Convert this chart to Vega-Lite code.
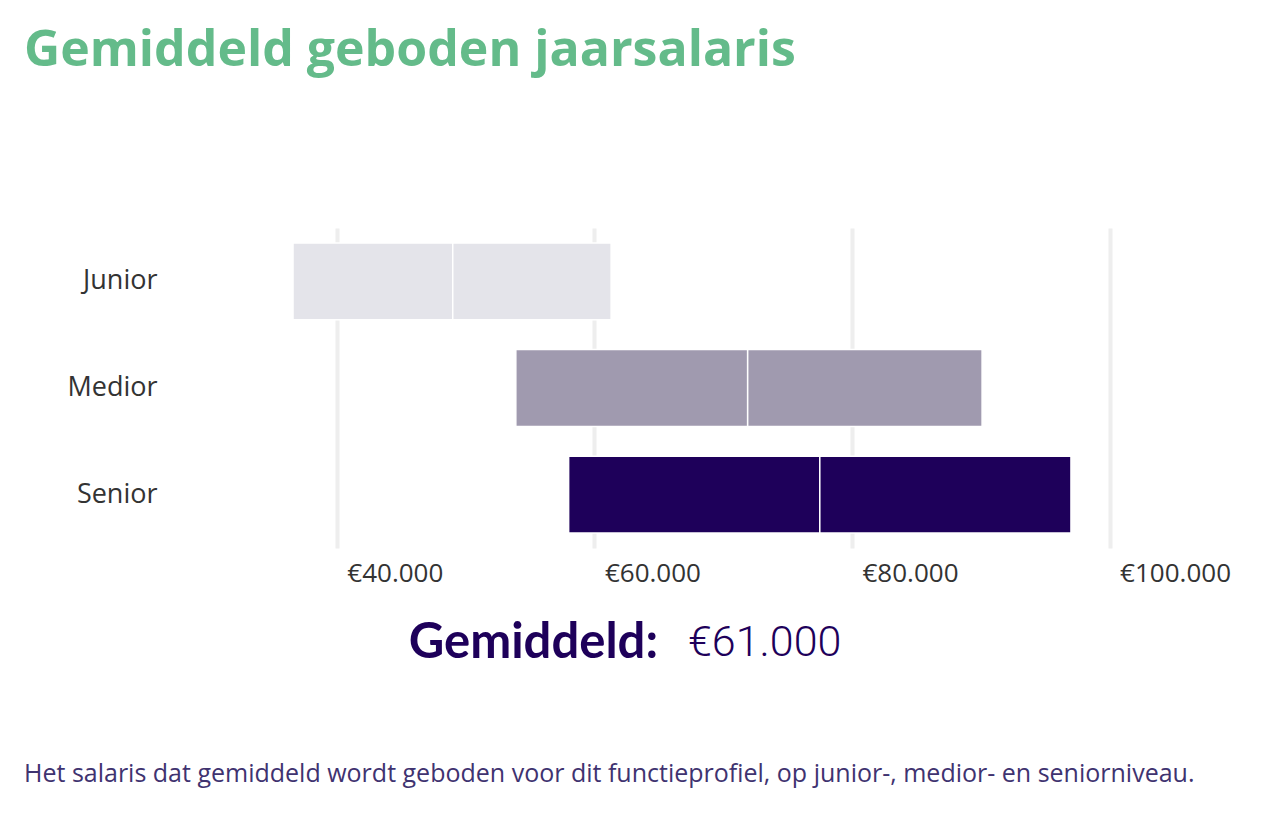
{
  "$schema": "https://vega.github.io/schema/vega-lite/v6.json",
  "background": "white",
  "padding": {"left": 24, "top": 26, "right": 10, "bottom": 10},
  "bounds": "flush",
  "spacing": 20,
  "datasets": {
    "salaris": [
      {"niveau": "Junior", "deel": "laag", "van": 36600, "tot": 49000},
      {"niveau": "Junior", "deel": "hoog", "van": 49000, "tot": 61300},
      {"niveau": "Medior", "deel": "laag", "van": 53900, "tot": 71900},
      {"niveau": "Medior", "deel": "hoog", "van": 71900, "tot": 90100},
      {"niveau": "Senior", "deel": "laag", "van": 58000, "tot": 77500},
      {"niveau": "Senior", "deel": "hoog", "van": 77500, "tot": 97000}
    ],
    "gemiddeld": [
      {"label": "Gemiddeld:", "waarde": "€61.000"}
    ]
  },
  "vconcat": [
    {
      "title": {
        "text": "Gemiddeld geboden jaarsalaris",
        "anchor": "start",
        "frame": "group",
        "baseline": "alphabetic",
        "offset": 112,
        "dx": -184,
        "font": "Open Sans",
        "fontSize": 50,
        "fontWeight": "bold",
        "color": "#64bb8a"
      },
      "width": 966,
      "height": 320,
      "data": {"name": "salaris"},
      "mark": {"type": "bar", "stroke": "white", "strokeWidth": 1.5},
      "encoding": {
        "y": {
          "field": "niveau",
          "type": "nominal",
          "sort": ["Junior", "Medior", "Senior"],
          "scale": {"paddingInner": 0.28, "paddingOuter": 0.14},
          "axis": {
            "title": null,
            "ticks": false,
            "domain": false,
            "labelPadding": 51,
            "labelFont": "Open Sans",
            "labelFontSize": 27,
            "labelColor": "#333333"
          }
        },
        "x": {
          "field": "van",
          "type": "quantitative",
          "scale": {"domain": [30000, 105000], "nice": false, "zero": false},
          "axis": {
            "title": null,
            "values": [40000, 60000, 80000, 100000],
            "labelExpr": "'€' + format(datum.value / 1000, 'd') + '.000'",
            "labelAlign": "left",
            "labelOffset": 10,
            "labelPadding": 12,
            "labelFont": "Open Sans",
            "labelFontSize": 26,
            "labelColor": "#333333",
            "ticks": false,
            "domain": false,
            "grid": true,
            "gridColor": "#eeeeee",
            "gridWidth": 4
          }
        },
        "x2": {"field": "tot"},
        "color": {
          "field": "niveau",
          "type": "nominal",
          "scale": {
            "domain": ["Junior", "Medior", "Senior"],
            "range": ["#e4e4ea", "#a09aaf", "#1e005a"]
          },
          "legend": null
        }
      }
    },
    {
      "title": {
        "text": "Het salaris dat gemiddeld wordt geboden voor dit functieprofiel, op junior-, medior- en seniorniveau.",
        "orient": "bottom",
        "anchor": "start",
        "frame": "group",
        "baseline": "alphabetic",
        "offset": 64,
        "dx": -184,
        "font": "Open Sans",
        "fontSize": 25,
        "fontWeight": "normal",
        "color": "#3f3370"
      },
      "width": 966,
      "height": 150,
      "data": {"name": "gemiddeld"},
      "layer": [
        {
          "mark": {
            "type": "text",
            "align": "right",
            "baseline": "middle",
            "dx": -33,
            "font": "Lato",
            "fontSize": 49,
            "fontWeight": "bold",
            "color": "#1e005a"
          },
          "encoding": {"text": {"field": "label"}}
        },
        {
          "mark": {
            "type": "text",
            "align": "left",
            "baseline": "middle",
            "dx": -3,
            "font": "Roboto",
            "fontSize": 43,
            "fontWeight": 300,
            "color": "#1e005a"
          },
          "encoding": {"text": {"field": "waarde"}}
        }
      ]
    }
  ],
  "config": {
    "view": {"stroke": null}
  }
}
